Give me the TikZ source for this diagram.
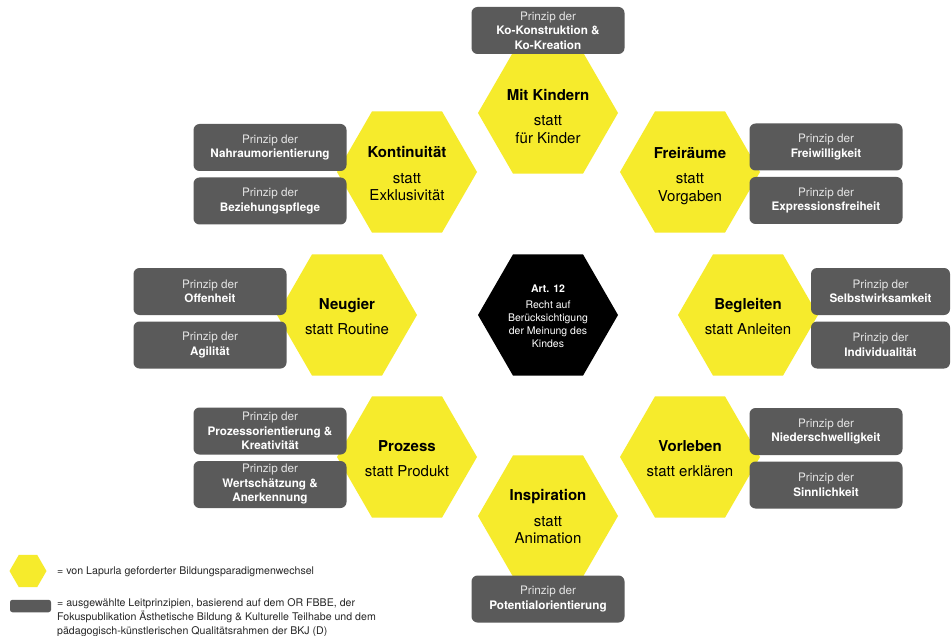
\documentclass[tikz,border=0pt]{standalone}
\usepackage{fontspec}
\setmainfont{TeX Gyre Heros}
\usetikzlibrary{shapes.geometric}
\definecolor{hexyellow}{HTML}{F6EB2C}
\definecolor{boxgrey}{HTML}{5A5A5A}
\definecolor{lightw}{HTML}{E4E4E4}
\tikzset{
  hexa/.style={regular polygon, regular polygon sides=6, minimum size=140pt, inner sep=0pt, fill=hexyellow, draw=none},
  hexblack/.style={hexa, fill=black},
  hextxt/.style={align=center, font=\fontsize{15}{17.5}\selectfont, text=black, inner sep=0pt},
  ctrtxt/.style={align=center, font=\fontsize{10.5}{13}\selectfont, text=white, inner sep=0pt},
  gbox/.style={rounded corners=6pt, fill=boxgrey, text=white, minimum width=153pt, minimum height=47pt, align=center, inner sep=0pt, font=\fontsize{11.7}{14.5}\selectfont},
  legtxt/.style={anchor=west, align=left, font=\fontsize{10.6}{14}\selectfont, text=black!85, inner sep=0pt},
}
\newcommand{\pzd}[1]{{\color{lightw}Prinzip der}\\\textbf{#1}}
\begin{document}
\begin{tikzpicture}[x=1pt,y=-1pt]
\useasboundingbox[fill=white] (0,0) rectangle (952,636);

% hexagons
\node[hexa] (hmk) at (548,113) {};
\node[hexa] (hko) at (407,172) {};
\node[hexa] (hfr) at (690,172) {};
\node[hexa] (hne) at (347,315) {};
\node[hexblack] (hc) at (548,315) {};
\node[hexa] (hbe) at (748,315) {};
\node[hexa] (hpr) at (407,457) {};
\node[hexa] (hvo) at (690,457) {};
\node[hexa] (hin) at (548,516) {};

% hexagon texts
\node[hextxt] (tmk) at ([yshift=-3.5pt]hmk.center) {\textbf{Mit Kindern}\\[8pt]statt\\für Kinder};
\node[hextxt] (tko) at ([yshift=-2pt]hko.center) {\textbf{Kontinuität}\\[8pt]statt\\Exklusivität};
\node[hextxt] (tfr) at ([yshift=-4pt]hfr.center) {\textbf{Freiräume}\\[8pt]statt\\Vorgaben};
\node[hextxt] (tne) at ([yshift=-1.5pt]hne.center) {\textbf{Neugier}\\[8pt]statt Routine};
\node[hextxt] (tbe) at ([yshift=-1.5pt]hbe.center) {\textbf{Begleiten}\\[8pt]statt Anleiten};
\node[hextxt] (tpr) at ([yshift=-1.5pt]hpr.center) {\textbf{Prozess}\\[8pt]statt Produkt};
\node[hextxt] (tvo) at ([yshift=-1.5pt]hvo.center) {\textbf{Vorleben}\\[8pt]statt erklären};
\node[hextxt] (tin) at ([yshift=-1pt]hin.center) {\textbf{Inspiration}\\[8pt]statt\\Animation};
\node[ctrtxt] (tc) at ([yshift=-1pt]hc.center) {\textbf{Art. 12}\\[3pt]Recht auf\\Berücksichtigung\\der Meinung des\\Kindes};

% grey boxes
\node[gbox] (b1) at (548,30.5) {\pzd{Ko-Konstruktion \&}\\\textbf{Ko-Kreation}};
\node[gbox] (b2) at (270,147.5) {\pzd{Nahraumorientierung}};
\node[gbox] (b3) at (270,201) {\pzd{Beziehungspflege}};
\node[gbox] (b4) at (826,147) {\pzd{Freiwilligkeit}};
\node[gbox] (b5) at (826,200.5) {\pzd{Expressionsfreiheit}};
\node[gbox] (b6) at (210,291.5) {\pzd{Offenheit}};
\node[gbox] (b7) at (210,345) {\pzd{Agilität}};
\node[gbox, minimum width=139pt] (b8) at (880.5,291.5) {\pzd{Selbstwirksamkeit}};
\node[gbox, minimum width=139pt] (b9) at (880.5,345) {\pzd{Individualität}};
\node[gbox] (b10) at (270,431) {\pzd{Prozessorientierung \&}\\\textbf{Kreativität}};
\node[gbox] (b11) at (270,484.5) {\pzd{Wertschätzung \&}\\\textbf{Anerkennung}};
\node[gbox] (b12) at (826,431.5) {\pzd{Niederschwelligkeit}};
\node[gbox] (b13) at (826,485) {\pzd{Sinnlichkeit}};
\node[gbox] (b14) at (548,599) {\pzd{Potentialorientierung}};

% legend
\node[hexa, minimum size=37pt] (lh) at (28,571) {};
\node[legtxt] (lt1) at (57,572) {= von Lapurla geforderter Bildungsparadigmenwechsel};
\node[rounded corners=2.5pt, fill=boxgrey, minimum width=41pt, minimum height=12.5pt, inner sep=0pt] (lb) at (30.5,606) {};
\node[legtxt] (lt2) at (57,618) {= ausgewählte Leitprinzipien, basierend auf dem OR FBBE, der\\Fokuspublikation Ästhetische Bildung \& Kulturelle Teilhabe und dem\\pädagogisch-künstlerischen Qualitätsrahmen der BKJ (D)};
\end{tikzpicture}
\end{document}
